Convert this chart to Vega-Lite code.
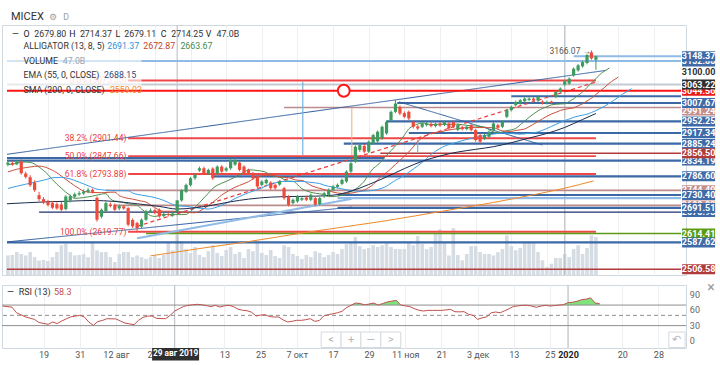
{
"$schema":"https://vega.github.io/schema/vega-lite/v6.json",
"padding":{"top":10,"left":0,"right":0,"bottom":0},
"background":"white",
"bounds":"flush",
"config":{"view":{"stroke":"#d0d8e0"},"font":"Roboto","text":{"font":"Roboto"}},
"datasets":{
"candles":[
{"i":-9,"o":2822,"h":2834,"l":2817,"c":2828,"v":23},
{"i":-8,"o":2827,"h":2833,"l":2818,"c":2822,"v":23.5},
{"i":-7,"o":2823,"h":2836,"l":2820,"c":2830,"v":27},
{"i":-6,"o":2831,"h":2838,"l":2792,"c":2796,"v":24.7},
{"i":-5,"o":2795,"h":2801,"l":2780,"c":2785,"v":23},
{"i":-4,"o":2784,"h":2790,"l":2755,"c":2760,"v":27},
{"i":-3,"o":2768,"h":2775,"l":2740,"c":2745,"v":21},
{"i":-2,"o":2730,"h":2740,"l":2712,"c":2718,"v":17},
{"i":-1,"o":2718,"h":2724,"l":2703,"c":2708,"v":17.6},
{"i":0,"o":2710,"h":2716,"l":2696,"c":2700,"v":16.5},
{"i":1,"o":2706,"h":2712,"l":2688,"c":2692,"v":21},
{"i":2,"o":2703,"h":2708,"l":2686,"c":2690,"v":27},
{"i":3,"o":2702,"h":2710,"l":2680,"c":2686,"v":35},
{"i":4,"o":2688,"h":2730,"l":2684,"c":2726,"v":36.8},
{"i":5,"o":2714,"h":2732,"l":2708,"c":2727,"v":27},
{"i":6,"o":2725,"h":2738,"l":2720,"c":2733,"v":23},
{"i":7,"o":2732,"h":2742,"l":2728,"c":2736,"v":23.5},
{"i":8,"o":2735,"h":2747,"l":2731,"c":2741,"v":24.7},
{"i":9,"o":2740,"h":2752,"l":2736,"c":2746,"v":21},
{"i":10,"o":2746,"h":2750,"l":2735,"c":2740,"v":38.8},
{"i":11,"o":2722,"h":2726,"l":2650,"c":2656,"v":29},
{"i":12,"o":2665,"h":2690,"l":2660,"c":2686,"v":27},
{"i":13,"o":2682,"h":2712,"l":2678,"c":2706,"v":27},
{"i":14,"o":2702,"h":2708,"l":2693,"c":2697,"v":21},
{"i":15,"o":2701,"h":2705,"l":2682,"c":2686,"v":15.3},
{"i":16,"o":2690,"h":2701,"l":2685,"c":2697,"v":24.7},
{"i":17,"o":2696,"h":2700,"l":2686,"c":2690,"v":27},
{"i":18,"o":2691,"h":2694,"l":2636,"c":2641,"v":27},
{"i":19,"o":2655,"h":2660,"l":2631,"c":2636,"v":21},
{"i":20,"o":2646,"h":2650,"l":2619.77,"c":2631,"v":23},
{"i":21,"o":2635,"h":2660,"l":2630,"c":2656,"v":21},
{"i":22,"o":2656,"h":2686,"l":2652,"c":2681,"v":19},
{"i":23,"o":2680,"h":2690,"l":2676,"c":2684,"v":21},
{"i":24,"o":2685,"h":2690,"l":2672,"c":2676,"v":23},
{"i":25,"o":2686,"h":2690,"l":2662,"c":2666,"v":20},
{"i":26,"o":2667,"h":2678,"l":2663,"c":2673,"v":23.5},
{"i":27,"o":2673,"h":2677,"l":2666,"c":2670,"v":38.8},
{"i":28,"o":2670,"h":2680,"l":2665,"c":2675,"v":29},
{"i":29,"o":2679.8,"h":2714.37,"l":2679.11,"c":2714.25,"v":47},
{"i":30,"o":2714,"h":2748,"l":2710,"c":2745,"v":40},
{"i":31,"o":2740,"h":2765,"l":2736,"c":2761,"v":30.5},
{"i":32,"o":2760,"h":2785,"l":2756,"c":2781,"v":26},
{"i":33,"o":2781,"h":2796,"l":2776,"c":2791,"v":33},
{"i":34,"o":2804,"h":2816,"l":2800,"c":2811,"v":23.5},
{"i":35,"o":2811,"h":2816,"l":2792,"c":2796,"v":21},
{"i":36,"o":2796,"h":2810,"l":2791,"c":2806,"v":28},
{"i":37,"o":2810,"h":2814,"l":2776,"c":2781,"v":35},
{"i":38,"o":2795,"h":2820,"l":2790,"c":2816,"v":26},
{"i":39,"o":2816,"h":2820,"l":2797,"c":2801,"v":22.3},
{"i":40,"o":2804,"h":2815,"l":2800,"c":2811,"v":29.4},
{"i":41,"o":2811,"h":2840,"l":2806,"c":2836,"v":33},
{"i":42,"o":2822,"h":2842,"l":2818,"c":2836,"v":24.7},
{"i":43,"o":2828,"h":2832,"l":2802,"c":2806,"v":27},
{"i":44,"o":2816,"h":2820,"l":2792,"c":2796,"v":20},
{"i":45,"o":2806,"h":2810,"l":2793,"c":2797,"v":30.5},
{"i":46,"o":2796,"h":2800,"l":2776,"c":2781,"v":28},
{"i":47,"o":2786,"h":2790,"l":2750,"c":2756,"v":38.8},
{"i":48,"o":2761,"h":2775,"l":2756,"c":2771,"v":26},
{"i":49,"o":2766,"h":2780,"l":2762,"c":2776,"v":23.5},
{"i":50,"o":2768,"h":2772,"l":2746,"c":2751,"v":29.4},
{"i":51,"o":2761,"h":2765,"l":2746,"c":2751,"v":22.3},
{"i":52,"o":2762,"h":2775,"l":2758,"c":2771,"v":20},
{"i":53,"o":2751,"h":2755,"l":2716,"c":2721,"v":35},
{"i":54,"o":2726,"h":2730,"l":2696,"c":2701,"v":33},
{"i":55,"o":2706,"h":2720,"l":2702,"c":2716,"v":24.7},
{"i":56,"o":2711,"h":2730,"l":2707,"c":2726,"v":22.3},
{"i":57,"o":2716,"h":2725,"l":2712,"c":2721,"v":18.8},
{"i":58,"o":2723,"h":2727,"l":2712,"c":2716,"v":23.5},
{"i":59,"o":2716,"h":2735,"l":2712,"c":2731,"v":21},
{"i":60,"o":2721,"h":2725,"l":2696,"c":2701,"v":28},
{"i":61,"o":2703,"h":2725,"l":2698,"c":2721,"v":26},
{"i":62,"o":2726,"h":2740,"l":2722,"c":2736,"v":21},
{"i":63,"o":2731,"h":2750,"l":2727,"c":2746,"v":23.5},
{"i":64,"o":2746,"h":2760,"l":2742,"c":2756,"v":27},
{"i":65,"o":2755,"h":2765,"l":2751,"c":2761,"v":24.7},
{"i":66,"o":2764,"h":2780,"l":2760,"c":2776,"v":30.5},
{"i":67,"o":2771,"h":2805,"l":2767,"c":2801,"v":36.4},
{"i":68,"o":2801,"h":2830,"l":2797,"c":2826,"v":38.8},
{"i":69,"o":2831,"h":2880,"l":2827,"c":2876,"v":44.7},
{"i":70,"o":2866,"h":2886,"l":2860,"c":2881,"v":34},
{"i":71,"o":2878,"h":2884,"l":2856,"c":2861,"v":30.5},
{"i":72,"o":2861,"h":2895,"l":2857,"c":2891,"v":31.7},
{"i":73,"o":2886,"h":2915,"l":2882,"c":2911,"v":35},
{"i":74,"o":2892,"h":2925,"l":2888,"c":2921,"v":33},
{"i":75,"o":2901,"h":2940,"l":2897,"c":2936,"v":35},
{"i":76,"o":2916,"h":2955,"l":2912,"c":2951,"v":38.8},
{"i":77,"o":2956,"h":2985,"l":2952,"c":2981,"v":33},
{"i":78,"o":2981,"h":3016,"l":2977,"c":3006,"v":30.5},
{"i":79,"o":2996,"h":3000,"l":2971,"c":2976,"v":30.5},
{"i":80,"o":2977,"h":2982,"l":2962,"c":2966,"v":30.5},
{"i":81,"o":2981,"h":2985,"l":2956,"c":2961,"v":38.8},
{"i":82,"o":2951,"h":2955,"l":2931,"c":2936,"v":35},
{"i":83,"o":2937,"h":2942,"l":2926,"c":2931,"v":45.8},
{"i":84,"o":2936,"h":2950,"l":2932,"c":2946,"v":36.4},
{"i":85,"o":2941,"h":2951,"l":2937,"c":2946,"v":30.5},
{"i":86,"o":2945,"h":2950,"l":2934,"c":2938,"v":33},
{"i":87,"o":2938,"h":2949,"l":2934,"c":2945,"v":48.2},
{"i":88,"o":2946,"h":2950,"l":2936,"c":2940,"v":53.7},
{"i":89,"o":2942,"h":2954,"l":2938,"c":2950,"v":38.8},
{"i":90,"o":2946,"h":2950,"l":2927,"c":2931,"v":23},
{"i":91,"o":2951,"h":2955,"l":2932,"c":2936,"v":55.2},
{"i":92,"o":2927,"h":2945,"l":2923,"c":2941,"v":23.5},
{"i":93,"o":2935,"h":2939,"l":2925,"c":2929,"v":17.3},
{"i":94,"o":2929,"h":2940,"l":2925,"c":2936,"v":24.7},
{"i":95,"o":2941,"h":2945,"l":2922,"c":2926,"v":34},
{"i":96,"o":2926,"h":2930,"l":2891,"c":2896,"v":34},
{"i":97,"o":2911,"h":2915,"l":2886,"c":2891,"v":27},
{"i":98,"o":2900,"h":2915,"l":2896,"c":2911,"v":24.7},
{"i":99,"o":2906,"h":2925,"l":2902,"c":2921,"v":24.7},
{"i":100,"o":2926,"h":2950,"l":2922,"c":2946,"v":23},
{"i":101,"o":2941,"h":2945,"l":2929,"c":2933,"v":27},
{"i":102,"o":2936,"h":2955,"l":2932,"c":2951,"v":30.5},
{"i":103,"o":2966,"h":2990,"l":2962,"c":2986,"v":46.6},
{"i":104,"o":2986,"h":3000,"l":2982,"c":2996,"v":34},
{"i":105,"o":3001,"h":3015,"l":2997,"c":3011,"v":29},
{"i":106,"o":3006,"h":3020,"l":3002,"c":3016,"v":31.7},
{"i":107,"o":3013,"h":3025,"l":3009,"c":3021,"v":38.8},
{"i":108,"o":3017,"h":3025,"l":3013,"c":3021,"v":38.8},
{"i":109,"o":3021,"h":3025,"l":3011,"c":3015,"v":38.8},
{"i":110,"o":3015,"h":3030,"l":3011,"c":3026,"v":27},
{"i":111,"o":3012,"h":3016,"l":3003,"c":3007,"v":17.3},
{"i":112,"o":3007,"h":3015,"l":3003,"c":3011,"v":9.4},
{"i":113,"o":3012,"h":3015,"l":3004,"c":3008,"v":13.3},
{"i":114,"o":3026,"h":3045,"l":3022,"c":3041,"v":20},
{"i":115,"o":3041,"h":3055,"l":3037,"c":3051,"v":20},
{"i":116,"o":3063,"h":3077,"l":3059,"c":3073,"v":24.7},
{"i":117,"o":3066,"h":3085,"l":3062,"c":3081,"v":21},
{"i":118,"o":3091,"h":3115,"l":3087,"c":3111,"v":30.5},
{"i":119,"o":3106,"h":3125,"l":3102,"c":3121,"v":35},
{"i":120,"o":3118,"h":3135,"l":3114,"c":3131,"v":24.7},
{"i":121,"o":3128,"h":3156,"l":3124,"c":3152,"v":31.7},
{"i":122,"o":3160,"h":3166.07,"l":3138,"c":3142,"v":46.6},
{"i":123,"o":3138,"h":3150,"l":3108,"c":3148.37,"v":44.7}
],
"ind":[
{"s":"lips","i":-9,"v":2822},{"s":"lips","i":-7,"v":2826},{"s":"lips","i":-6,"v":2830},{"s":"lips","i":-4,"v":2828.7},{"s":"lips","i":-2,"v":2814.7},{"s":"lips","i":0,"v":2792},{"s":"lips","i":1,"v":2777},{"s":"lips","i":2,"v":2763},{"s":"lips","i":3,"v":2751},{"s":"lips","i":4,"v":2739},{"s":"lips","i":5,"v":2729},{"s":"lips","i":6,"v":2720.5},{"s":"lips","i":8,"v":2722.7},{"s":"lips","i":10,"v":2727},{"s":"lips","i":12,"v":2733},{"s":"lips","i":13,"v":2734.4},{"s":"lips","i":14,"v":2718.8},{"s":"lips","i":15,"v":2712.2},{"s":"lips","i":16,"v":2711},{"s":"lips","i":18,"v":2703.8},{"s":"lips","i":20,"v":2699.9},{"s":"lips","i":21,"v":2688.1},{"s":"lips","i":22,"v":2677.7},{"s":"lips","i":23,"v":2668.4},{"s":"lips","i":24,"v":2665.9},{"s":"lips","i":26,"v":2671.9},{"s":"lips","i":28,"v":2671.4},{"s":"lips","i":30,"v":2671.4},{"s":"lips","i":31,"v":2672.1},{"s":"lips","i":32,"v":2680.5},{"s":"lips","i":33,"v":2693.4},{"s":"lips","i":34,"v":2706.9},{"s":"lips","i":35,"v":2721.7},{"s":"lips","i":36,"v":2735.6},{"s":"lips","i":37,"v":2750.7},{"s":"lips","i":38,"v":2759.7},{"s":"lips","i":40,"v":2771.4},{"s":"lips","i":42,"v":2784.4},{"s":"lips","i":44,"v":2799},{"s":"lips","i":45,"v":2806.4},{"s":"lips","i":47,"v":2804.3},{"s":"lips","i":49,"v":2798.5},{"s":"lips","i":50,"v":2790},{"s":"lips","i":52,"v":2784.1},{"s":"lips","i":54,"v":2772.2},{"s":"lips","i":55,"v":2772},{"s":"lips","i":56,"v":2761.8},{"s":"lips","i":57,"v":2749.6},{"s":"lips","i":58,"v":2742.9},{"s":"lips","i":60,"v":2735.8},{"s":"lips","i":62,"v":2731.7},{"s":"lips","i":63,"v":2725.5},{"s":"lips","i":65,"v":2726.9},{"s":"lips","i":67,"v":2735.8},{"s":"lips","i":69,"v":2747.9},{"s":"lips","i":70,"v":2758.5},{"s":"lips","i":71,"v":2772},{"s":"lips","i":72,"v":2792.8},{"s":"lips","i":73,"v":2810.4},{"s":"lips","i":74,"v":2820.5},{"s":"lips","i":75,"v":2834.6},{"s":"lips","i":76,"v":2849.9},{"s":"lips","i":77,"v":2864.1},{"s":"lips","i":78,"v":2878.5},{"s":"lips","i":79,"v":2893},{"s":"lips","i":80,"v":2910.6},{"s":"lips","i":81,"v":2929.7},{"s":"lips","i":82,"v":2938.9},{"s":"lips","i":83,"v":2944.4},{"s":"lips","i":84,"v":2947.7},{"s":"lips","i":86,"v":2942.5},{"s":"lips","i":88,"v":2943.7},{"s":"lips","i":90,"v":2943.1},{"s":"lips","i":92,"v":2943.9},{"s":"lips","i":94,"v":2940.3},{"s":"lips","i":96,"v":2938.1},{"s":"lips","i":98,"v":2935.4},{"s":"lips","i":99,"v":2927.5},{"s":"lips","i":100,"v":2920.2},{"s":"lips","i":101,"v":2918.3},{"s":"lips","i":103,"v":2924.3},{"s":"lips","i":105,"v":2931},{"s":"lips","i":106,"v":2942},{"s":"lips","i":107,"v":2952.8},{"s":"lips","i":108,"v":2964.5},{"s":"lips","i":109,"v":2974.8},{"s":"lips","i":110,"v":2984},{"s":"lips","i":111,"v":2991.4},{"s":"lips","i":112,"v":2996.1},{"s":"lips","i":113,"v":3002.1},{"s":"lips","i":115,"v":3004.7},{"s":"lips","i":116,"v":3005.3},{"s":"lips","i":117,"v":3012.5},{"s":"lips","i":118,"v":3020.2},{"s":"lips","i":119,"v":3030.7},{"s":"lips","i":120,"v":3040.8},{"s":"lips","i":121,"v":3054.8},{"s":"lips","i":122,"v":3068},{"s":"lips","i":123,"v":3080.6},{"s":"lips","i":124,"v":3094.9},{"s":"lips","i":125,"v":3104.3},{"s":"lips","i":126,"v":3113},
{"s":"teeth","i":-9,"v":2800},{"s":"teeth","i":-7,"v":2808},{"s":"teeth","i":-5,"v":2813},{"s":"teeth","i":-4,"v":2815},{"s":"teeth","i":-2,"v":2817.6},{"s":"teeth","i":0,"v":2811.2},{"s":"teeth","i":1,"v":2804.8},{"s":"teeth","i":2,"v":2797.3},{"s":"teeth","i":3,"v":2787.4},{"s":"teeth","i":4,"v":2777.5},{"s":"teeth","i":5,"v":2767.8},{"s":"teeth","i":6,"v":2758.3},{"s":"teeth","i":7,"v":2749.8},{"s":"teeth","i":8,"v":2741.8},{"s":"teeth","i":10,"v":2738.2},{"s":"teeth","i":12,"v":2737.4},{"s":"teeth","i":14,"v":2738.8},{"s":"teeth","i":15,"v":2739},{"s":"teeth","i":16,"v":2728.6},{"s":"teeth","i":17,"v":2723.3},{"s":"teeth","i":19,"v":2718.1},{"s":"teeth","i":21,"v":2712},{"s":"teeth","i":22,"v":2709.2},{"s":"teeth","i":23,"v":2700.7},{"s":"teeth","i":24,"v":2692.6},{"s":"teeth","i":25,"v":2684.9},{"s":"teeth","i":26,"v":2681.3},{"s":"teeth","i":28,"v":2681.6},{"s":"teeth","i":30,"v":2679},{"s":"teeth","i":32,"v":2677.3},{"s":"teeth","i":33,"v":2677},{"s":"teeth","i":34,"v":2681.6},{"s":"teeth","i":35,"v":2689.5},{"s":"teeth","i":36,"v":2698.4},{"s":"teeth","i":37,"v":2708.7},{"s":"teeth","i":38,"v":2719},{"s":"teeth","i":39,"v":2730.5},{"s":"teeth","i":40,"v":2738.7},{"s":"teeth","i":41,"v":2747.1},{"s":"teeth","i":43,"v":2759.4},{"s":"teeth","i":45,"v":2770.4},{"s":"teeth","i":47,"v":2785.8},{"s":"teeth","i":48,"v":2788.3},{"s":"teeth","i":50,"v":2790.2},{"s":"teeth","i":52,"v":2785},{"s":"teeth","i":54,"v":2782.3},{"s":"teeth","i":56,"v":2775},{"s":"teeth","i":57,"v":2774.5},{"s":"teeth","i":58,"v":2767.8},{"s":"teeth","i":59,"v":2759.5},{"s":"teeth","i":61,"v":2750.5},{"s":"teeth","i":63,"v":2743},{"s":"teeth","i":65,"v":2736.4},{"s":"teeth","i":67,"v":2734.7},{"s":"teeth","i":69,"v":2738.6},{"s":"teeth","i":71,"v":2745.7},{"s":"teeth","i":72,"v":2752.6},{"s":"teeth","i":73,"v":2761.8},{"s":"teeth","i":74,"v":2776.1},{"s":"teeth","i":75,"v":2789.2},{"s":"teeth","i":76,"v":2798.2},{"s":"teeth","i":77,"v":2809.8},{"s":"teeth","i":78,"v":2822.4},{"s":"teeth","i":79,"v":2834.7},{"s":"teeth","i":80,"v":2847.4},{"s":"teeth","i":81,"v":2860.3},{"s":"teeth","i":82,"v":2875.4},{"s":"teeth","i":83,"v":2891.7},{"s":"teeth","i":84,"v":2902.2},{"s":"teeth","i":85,"v":2910.2},{"s":"teeth","i":86,"v":2916.5},{"s":"teeth","i":88,"v":2920.5},{"s":"teeth","i":90,"v":2926.5},{"s":"teeth","i":92,"v":2930},{"s":"teeth","i":94,"v":2933.6},{"s":"teeth","i":96,"v":2933.6},{"s":"teeth","i":98,"v":2933.8},{"s":"teeth","i":100,"v":2933.1},{"s":"teeth","i":101,"v":2928.5},{"s":"teeth","i":102,"v":2923.8},{"s":"teeth","i":104,"v":2922},{"s":"teeth","i":105,"v":2925},{"s":"teeth","i":107,"v":2929.2},{"s":"teeth","i":108,"v":2936.3},{"s":"teeth","i":109,"v":2943.7},{"s":"teeth","i":110,"v":2952.1},{"s":"teeth","i":111,"v":2960.1},{"s":"teeth","i":112,"v":2967.7},{"s":"teeth","i":113,"v":2974.4},{"s":"teeth","i":114,"v":2979.4},{"s":"teeth","i":115,"v":2985.2},{"s":"teeth","i":117,"v":2990.8},{"s":"teeth","i":118,"v":2993},{"s":"teeth","i":119,"v":2999},{"s":"teeth","i":120,"v":3005.5},{"s":"teeth","i":121,"v":3013.9},{"s":"teeth","i":122,"v":3022.3},{"s":"teeth","i":123,"v":3033.4},{"s":"teeth","i":124,"v":3044.4},{"s":"teeth","i":125,"v":3055.2},{"s":"teeth","i":126,"v":3067.3},{"s":"teeth","i":127,"v":3076.7},{"s":"teeth","i":128,"v":3085.6},
{"s":"jaw","i":-9,"v":2750},{"s":"jaw","i":-7,"v":2757},{"s":"jaw","i":-5,"v":2763},{"s":"jaw","i":-3,"v":2769},{"s":"jaw","i":-1,"v":2775},{"s":"jaw","i":0,"v":2778.6},{"s":"jaw","i":1,"v":2782.6},{"s":"jaw","i":3,"v":2783.7},{"s":"jaw","i":4,"v":2781.9},{"s":"jaw","i":5,"v":2779},{"s":"jaw","i":6,"v":2774.3},{"s":"jaw","i":7,"v":2769.2},{"s":"jaw","i":8,"v":2763.9},{"s":"jaw","i":9,"v":2758.4},{"s":"jaw","i":10,"v":2753.1},{"s":"jaw","i":11,"v":2748},{"s":"jaw","i":12,"v":2746.3},{"s":"jaw","i":14,"v":2743.9},{"s":"jaw","i":17,"v":2743.3},{"s":"jaw","i":18,"v":2743.1},{"s":"jaw","i":19,"v":2736.4},{"s":"jaw","i":20,"v":2732.5},{"s":"jaw","i":22,"v":2727.9},{"s":"jaw","i":24,"v":2722.6},{"s":"jaw","i":26,"v":2714},{"s":"jaw","i":27,"v":2708},{"s":"jaw","i":28,"v":2702.1},{"s":"jaw","i":29,"v":2698.5},{"s":"jaw","i":31,"v":2696.2},{"s":"jaw","i":33,"v":2692.4},{"s":"jaw","i":35,"v":2689.3},{"s":"jaw","i":36,"v":2688.2},{"s":"jaw","i":37,"v":2690.2},{"s":"jaw","i":38,"v":2694.4},{"s":"jaw","i":39,"v":2699.5},{"s":"jaw","i":40,"v":2705.8},{"s":"jaw","i":41,"v":2712.3},{"s":"jaw","i":42,"v":2719.9},{"s":"jaw","i":43,"v":2725.8},{"s":"jaw","i":44,"v":2732},{"s":"jaw","i":46,"v":2741.9},{"s":"jaw","i":48,"v":2751.4},{"s":"jaw","i":50,"v":2763.9},{"s":"jaw","i":51,"v":2767.1},{"s":"jaw","i":53,"v":2771.5},{"s":"jaw","i":55,"v":2771},{"s":"jaw","i":57,"v":2771.4},{"s":"jaw","i":59,"v":2768.4},{"s":"jaw","i":61,"v":2764.9},{"s":"jaw","i":62,"v":2760},{"s":"jaw","i":64,"v":2754.2},{"s":"jaw","i":66,"v":2748.9},{"s":"jaw","i":68,"v":2743.9},{"s":"jaw","i":70,"v":2741.7},{"s":"jaw","i":72,"v":2743.1},{"s":"jaw","i":74,"v":2746.9},{"s":"jaw","i":75,"v":2751.1},{"s":"jaw","i":76,"v":2756.8},{"s":"jaw","i":77,"v":2766},{"s":"jaw","i":78,"v":2774.9},{"s":"jaw","i":79,"v":2781.5},{"s":"jaw","i":80,"v":2789.9},{"s":"jaw","i":81,"v":2799.2},{"s":"jaw","i":82,"v":2808.6},{"s":"jaw","i":83,"v":2818.4},{"s":"jaw","i":84,"v":2828.6},{"s":"jaw","i":85,"v":2840.3},{"s":"jaw","i":86,"v":2853.1},{"s":"jaw","i":87,"v":2862.5},{"s":"jaw","i":88,"v":2870.5},{"s":"jaw","i":89,"v":2877.5},{"s":"jaw","i":90,"v":2882},{"s":"jaw","i":92,"v":2890.3},{"s":"jaw","i":94,"v":2897.9},{"s":"jaw","i":96,"v":2904.5},{"s":"jaw","i":98,"v":2909.8},{"s":"jaw","i":100,"v":2914},{"s":"jaw","i":102,"v":2916.8},{"s":"jaw","i":104,"v":2915.8},{"s":"jaw","i":106,"v":2913.7},{"s":"jaw","i":108,"v":2916.7},{"s":"jaw","i":110,"v":2920.5},{"s":"jaw","i":111,"v":2925.5},{"s":"jaw","i":112,"v":2930.9},{"s":"jaw","i":113,"v":2937.1},{"s":"jaw","i":114,"v":2943.2},{"s":"jaw","i":115,"v":2949.2},{"s":"jaw","i":116,"v":2954.7},{"s":"jaw","i":117,"v":2959.3},{"s":"jaw","i":118,"v":2964.5},{"s":"jaw","i":120,"v":2971.1},{"s":"jaw","i":121,"v":2973.9},{"s":"jaw","i":122,"v":2979.1},{"s":"jaw","i":123,"v":2984.6},{"s":"jaw","i":124,"v":2991.4},{"s":"jaw","i":125,"v":2998.3},{"s":"jaw","i":126,"v":3007},{"s":"jaw","i":127,"v":3015.7},{"s":"jaw","i":128,"v":3024.6},{"s":"jaw","i":129,"v":3034.4},{"s":"jaw","i":130,"v":3042.7},{"s":"jaw","i":131,"v":3050.8},
{"s":"ema","i":-9.2,"v":2704},{"s":"ema","i":-5,"v":2707},{"s":"ema","i":0,"v":2710},{"s":"ema","i":5,"v":2712},{"s":"ema","i":10,"v":2714},{"s":"ema","i":15,"v":2711},{"s":"ema","i":20,"v":2704},{"s":"ema","i":25,"v":2696},{"s":"ema","i":29,"v":2688.15},{"s":"ema","i":33,"v":2692},{"s":"ema","i":37,"v":2700},{"s":"ema","i":41,"v":2710},{"s":"ema","i":45,"v":2718},{"s":"ema","i":50,"v":2724},{"s":"ema","i":55,"v":2726},{"s":"ema","i":60,"v":2727},{"s":"ema","i":64,"v":2730},{"s":"ema","i":68,"v":2742},{"s":"ema","i":72,"v":2762},{"s":"ema","i":76,"v":2785},{"s":"ema","i":80,"v":2810},{"s":"ema","i":84,"v":2832},{"s":"ema","i":88,"v":2848},{"s":"ema","i":92,"v":2860},{"s":"ema","i":96,"v":2868},{"s":"ema","i":100,"v":2876},{"s":"ema","i":104,"v":2888},{"s":"ema","i":108,"v":2902},{"s":"ema","i":112,"v":2916},{"s":"ema","i":116,"v":2934},{"s":"ema","i":120,"v":2958},{"s":"ema","i":123,"v":2976},
{"s":"sma","i":23,"v":2547},{"s":"sma","i":29,"v":2559.03},{"s":"sma","i":35,"v":2571},{"s":"sma","i":45,"v":2590},{"s":"sma","i":58,"v":2618},{"s":"sma","i":75,"v":2651},{"s":"sma","i":90,"v":2685},{"s":"sma","i":100,"v":2708},{"s":"sma","i":110,"v":2734},{"s":"sma","i":116,"v":2751},{"s":"sma","i":122.5,"v":2773}
],
"lines":[
{"x1":-9.2,"y1":3134,"x2":142.1,"y2":3134,"k":"lblue"},
{"x1":118,"y1":3148.37,"x2":142.1,"y2":3148.37,"k":"lblue"},
{"x1":18,"y1":3075.55,"x2":123,"y2":3075.55,"k":"fib"},
{"x1":-9.2,"y1":3063.22,"x2":142.1,"y2":3063.22,"k":"gray"},
{"x1":104,"y1":3028,"x2":142.1,"y2":3028,"k":"blue"},
{"x1":78.4,"y1":3007.67,"x2":142.1,"y2":3007.67,"k":"blue"},
{"x1":53,"y1":2994,"x2":142.1,"y2":2994,"k":"rose1"},
{"x1":76,"y1":2952.25,"x2":142.1,"y2":2952.25,"k":"blue"},
{"x1":81,"y1":2917.34,"x2":142.1,"y2":2917.34,"k":"blue"},
{"x1":18,"y1":2901.44,"x2":123,"y2":2901.44,"k":"fib"},
{"x1":66.4,"y1":2885.24,"x2":142.1,"y2":2885.24,"k":"blue"},
{"x1":74.6,"y1":2856.5,"x2":142.1,"y2":2856.5,"k":"dred1"},
{"x1":18,"y1":2847.66,"x2":123,"y2":2847.66,"k":"fib"},
{"x1":-9.2,"y1":2842,"x2":75.5,"y2":2842,"k":"blue"},
{"x1":-9.2,"y1":2834.19,"x2":142.1,"y2":2834.19,"k":"blue"},
{"x1":18,"y1":2793.88,"x2":123,"y2":2793.88,"k":"fib"},
{"x1":37,"y1":2786.6,"x2":142.1,"y2":2786.6,"k":"blue"},
{"x1":13,"y1":2744.5,"x2":142.1,"y2":2744.5,"k":"rose"},
{"x1":65,"y1":2730.4,"x2":142.1,"y2":2730.4,"k":"blue"},
{"x1":65,"y1":2721,"x2":142.1,"y2":2721,"k":"lblue"},
{"x1":15,"y1":2699,"x2":142.1,"y2":2699,"k":"rose"},
{"x1":65,"y1":2691.51,"x2":142.1,"y2":2691.51,"k":"bluet"},
{"x1":-2,"y1":2679,"x2":142.1,"y2":2679,"k":"navy"},
{"x1":18,"y1":2619.77,"x2":123,"y2":2619.77,"k":"fib"},
{"x1":22,"y1":2614.41,"x2":142.1,"y2":2614.41,"k":"green"},
{"x1":-9.2,"y1":2587.62,"x2":142.1,"y2":2587.62,"k":"blue"},
{"x1":-9.2,"y1":2506.58,"x2":142.1,"y2":2506.58,"k":"dred"},
{"x1":-9.2,"y1":2853,"x2":125.3,"y2":3106,"k":"trend"},
{"x1":-9.2,"y1":2589,"x2":68.2,"y2":2694,"k":"trend"},
{"x1":20,"y1":2600,"x2":68.2,"y2":2719,"k":"lblue"},
{"x1":78.8,"y1":3011,"x2":111,"y2":2881,"k":"trend"},
{"x1":20,"y1":2636,"x2":123.5,"y2":3073,"k":"rdash"},
{"x1":57.2,"y1":3071,"x2":57.2,"y2":2851,"k":"vlb"},
{"x1":68.2,"y1":2991,"x2":68.2,"y2":2851,"k":"vor"},
{"x1":83,"y1":2896,"x2":83,"y2":2860,"k":"vlb"},
{"x1":-9.2,"y1":3044.56,"x2":142.1,"y2":3044.56,"k":"redx"}
],
"boxesUnder":[
{"p":3132.88,"t":"3132.88","k":"blue"},
{"p":3044.56,"t":"3044.56","k":"red"},
{"p":2985,"t":"2991.24","k":"rose"},
{"p":2834.19,"t":"2834.19","k":"blue"},
{"p":2744.5,"t":"2744.49","k":"rose"},
{"p":2699,"t":"2699.02","k":"rose"},
{"p":2678.9,"t":"2678.93","k":"blue"}
],
"boxesOver":[
{"p":3148.37,"t":"3148.37","k":"blue"},
{"p":3100,"t":"3100.00","k":"white"},
{"p":3063.22,"t":"3063.22","k":"dark"},
{"p":3007.67,"t":"3007.67","k":"blue"},
{"p":2952.25,"t":"2952.25","k":"blue"},
{"p":2917.34,"t":"2917.34","k":"blue"},
{"p":2885.24,"t":"2885.24","k":"blue"},
{"p":2856.5,"t":"2856.50","k":"dred"},
{"p":2786.6,"t":"2786.60","k":"blue"},
{"p":2730.4,"t":"2730.40","k":"blue"},
{"p":2691.51,"t":"2691.51","k":"blue"},
{"p":2614.41,"t":"2614.41","k":"green"},
{"p":2587.62,"t":"2587.62","k":"blue"},
{"p":2506.58,"t":"2506.58","k":"dred"}
],
"notes":[
{"i":-8.32,"p":3266.8,"t":"MICEX","k":"title"},{"i":0.3,"p":3266.8,"t":"⚙","k":"ico"},{"i":3.4,"p":3266.8,"t":"D","k":"ico"},
{"i":-8.1,"p":3216.5,"t":"—","k":"b"},{"i":-5.51,"p":3216.5,"t":"O","k":"b"},{"i":-3.07,"p":3216.5,"t":"2679.80","k":"t"},{"i":4.8,"p":3216.5,"t":"H","k":"b"},{"i":7.17,"p":3216.5,"t":"2714.37","k":"t"},{"i":15.13,"p":3216.5,"t":"L","k":"b"},{"i":17.12,"p":3216.5,"t":"2679.11","k":"t"},{"i":25.3,"p":3216.5,"t":"C","k":"b"},{"i":27.67,"p":3216.5,"t":"2714.25","k":"t"},{"i":35.41,"p":3216.5,"t":"V","k":"b"},{"i":37.85,"p":3216.5,"t":"47.0B","k":"t"},
{"i":-5.51,"p":3178.5,"t":"ALLIGATOR (13, 8, 5)","k":"t"},{"i":13.29,"p":3178.5,"t":"2691.37","k":"alb"},{"i":21.39,"p":3178.5,"t":"2672.87","k":"alr"},{"i":29.73,"p":3178.5,"t":"2663.67","k":"alg"},
{"i":-5.51,"p":3133.3,"t":"VOLUME","k":"t"},{"i":3.3,"p":3133.3,"t":"47.0B","k":"vol"},
{"i":-5.51,"p":3092.9,"t":"EMA (55, 0, CLOSE)","k":"t"},{"i":12.6,"p":3092.9,"t":"2688.15","k":"ema"},
{"i":-5.51,"p":3045.9,"t":"SMA (200, 0, CLOSE)","k":"t"},{"i":13.9,"p":3045.9,"t":"2559.03","k":"sma"}
],
"fibn":[
{"i":17.6,"p":3075.55,"t":"0.0% (3075.55)","k":"fibdim"},
{"i":17.6,"p":2901.44,"t":"38.2% (2901.44)","k":"fib"},
{"i":17.6,"p":2847.66,"t":"50.0% (2847.66)","k":"fib"},
{"i":17.6,"p":2793.88,"t":"61.8% (2793.88)","k":"fib"},
{"i":17.6,"p":2619.77,"t":"100.0% (2619.77)","k":"fib"},
{"i":121.9,"p":3163,"t":"3166.07 →","k":"hi"}
],
"rsi":[
{"i":-9,"r":68,"t":70},{"i":-7,"r":66,"t":70},{"i":-6,"r":55,"t":70},{"i":-4,"r":47,"t":70},{"i":-3,"r":44.5,"t":70},{"i":-2,"r":42,"t":70},{"i":-1,"r":36,"t":70},{"i":1,"r":32.5,"t":70},{"i":2,"r":37,"t":70},{"i":3,"r":34,"t":70},{"i":4,"r":39,"t":70},{"i":5,"r":43,"t":70},{"i":6,"r":47,"t":70},{"i":8,"r":50,"t":70},{"i":9,"r":47,"t":70},{"i":10,"r":37,"t":70},{"i":11,"r":30.5,"t":70},{"i":12,"r":38,"t":70},{"i":13,"r":40,"t":70},{"i":14,"r":43.5,"t":70},{"i":16,"r":43,"t":70},{"i":17,"r":39,"t":70},{"i":18,"r":35,"t":70},{"i":20,"r":31.8,"t":70},{"i":21,"r":40.3,"t":70},{"i":22,"r":46,"t":70},{"i":23,"r":48.5,"t":70},{"i":24,"r":48.7,"t":70},{"i":25,"r":44,"t":70},{"i":27,"r":43.5,"t":70},{"i":28,"r":50,"t":70},{"i":29,"r":58.3,"t":70},{"i":30,"r":63,"t":70},{"i":31,"r":67.5,"t":70},{"i":32,"r":69.5,"t":70},{"i":33,"r":70.5,"t":70.5},{"i":34,"r":71.5,"t":71.5},{"i":35,"r":70.5,"t":70.5},{"i":36,"r":69,"t":70},{"i":37,"r":67,"t":70},{"i":38,"r":69.5,"t":70},{"i":39,"r":66.2,"t":70},{"i":40,"r":68.5,"t":70},{"i":41,"r":69.5,"t":70},{"i":42,"r":67,"t":70},{"i":43,"r":62,"t":70},{"i":44,"r":60,"t":70},{"i":45,"r":59,"t":70},{"i":46,"r":56,"t":70},{"i":47,"r":48.7,"t":70},{"i":48,"r":50.5,"t":70},{"i":49,"r":51.3,"t":70},{"i":50,"r":47.5,"t":70},{"i":51,"r":46.8,"t":70},{"i":52,"r":46.8,"t":70},{"i":53,"r":41,"t":70},{"i":54,"r":37,"t":70},{"i":55,"r":38.5,"t":70},{"i":56,"r":40.3,"t":70},{"i":57,"r":40.3,"t":70},{"i":58,"r":41.5,"t":70},{"i":59,"r":43.5,"t":70},{"i":60,"r":38.3,"t":70},{"i":61,"r":40,"t":70},{"i":62,"r":49,"t":70},{"i":63,"r":51.3,"t":70},{"i":64,"r":53,"t":70},{"i":65,"r":55,"t":70},{"i":66,"r":57.8,"t":70},{"i":67,"r":65,"t":70},{"i":68,"r":69.5,"t":70},{"i":69,"r":74,"t":74},{"i":70,"r":73,"t":73},{"i":71,"r":70.5,"t":70.5},{"i":72,"r":72,"t":72},{"i":73,"r":74,"t":74},{"i":74,"r":70,"t":70},{"i":75,"r":73,"t":73},{"i":76,"r":76,"t":76},{"i":77,"r":77.5,"t":77.5},{"i":78,"r":79.3,"t":79.3},{"i":79,"r":70,"t":70},{"i":80,"r":68.5,"t":70},{"i":81,"r":67,"t":70},{"i":82,"r":63,"t":70},{"i":83,"r":60,"t":70},{"i":84,"r":58.4,"t":70},{"i":85,"r":59.7,"t":70},{"i":86,"r":59.7,"t":70},{"i":87,"r":59.7,"t":70},{"i":88,"r":59.7,"t":70},{"i":89,"r":60.5,"t":70},{"i":90,"r":61.7,"t":70},{"i":91,"r":57,"t":70},{"i":92,"r":56.8,"t":70},{"i":93,"r":57.2,"t":70},{"i":94,"r":52,"t":70},{"i":95,"r":50,"t":70},{"i":96,"r":42.2,"t":70},{"i":97,"r":45,"t":70},{"i":98,"r":47,"t":70},{"i":99,"r":55,"t":70},{"i":100,"r":56.5,"t":70},{"i":101,"r":55,"t":70},{"i":102,"r":59,"t":70},{"i":103,"r":63,"t":70},{"i":104,"r":67.5,"t":70},{"i":105,"r":68.5,"t":70},{"i":106,"r":69.5,"t":70},{"i":107,"r":69.5,"t":70},{"i":108,"r":68,"t":70},{"i":109,"r":65.6,"t":70},{"i":110,"r":68,"t":70},{"i":111,"r":69.5,"t":70},{"i":112,"r":68.2,"t":70},{"i":113,"r":69,"t":70},{"i":114,"r":70,"t":70},{"i":115,"r":70.8,"t":70.8},{"i":116,"r":74.7,"t":74.7},{"i":117,"r":75.5,"t":75.5},{"i":118,"r":77.3,"t":77.3},{"i":119,"r":80.5,"t":80.5},{"i":120,"r":81.5,"t":81.5},{"i":121,"r":84,"t":84},{"i":122,"r":74,"t":74},{"i":123,"r":72.8,"t":72.8}
],
"btn":[
{"a":61.4,"b":65.8,"m":63.6,"t":"<"},{"a":65.8,"b":70.2,"m":68,"t":"+"},{"a":70.2,"b":74.6,"m":72.4,"t":"—"},{"a":74.6,"b":79,"m":76.8,"t":">"},{"a":138.3,"b":141.9,"m":140.1,"t":"↶"}
]
},
"spacing":10,
"vconcat":[
{
"width":684,"height":250,
"layer":[
{
"data":{"name":"candles"},
"mark":{"type":"bar","width":3.6,"color":"#d6dce3"},
"encoding":{
"x":{"field":"i","type":"quantitative","scale":{"domain":[-9.2,142.1],"nice":false,"zero":false},"axis":{"values":[0,8,16,24,32,40,48,56,64,72,80,88,96,104,112,116,128,136],"grid":true,"gridColor":"#edf0f3","labels":false,"ticks":false,"domain":false,"title":null,"minExtent":0,"maxExtent":0}},
"y":{"field":"v","type":"quantitative","scale":{"domain":[0,294],"nice":false},"axis":null}
}
},
{
"resolve":{"scale":{"color":"independent","strokeWidth":"independent"}},
"layer":[
{
"data":{"values":[{"i":29},{"i":116}]},
"mark":{"type":"rule","color":"#b4bac1","strokeWidth":1},
"encoding":{"x":{"field":"i","type":"quantitative","scale":{"domain":[-9.2,142.1],"nice":false,"zero":false}}}
},
{
"data":{"name":"lines"},
"mark":{"type":"rule"},
"encoding":{
"x":{"field":"x1","type":"quantitative","scale":{"domain":[-9.2,142.1],"nice":false,"zero":false}},
"x2":{"field":"x2"},
"y":{"field":"y1","type":"quantitative","scale":{"domain":[2489.4,3242.7],"nice":false,"zero":false},"axis":null},
"y2":{"field":"y2"},
"color":{"field":"k","type":"nominal","scale":{"domain":["blue","bluet","lblue","gray","fib","redx","rose","rose1","dred","dred1","green","navy","rdash","vlb","vor","trend"],"range":["#3b69a6","#3b69a6","#8fbbe6","#c3cad2","#f04646","#ff1414","#bb8a8a","#bb8a8a","#b33a3a","#b33a3a","#5d9b16","#1f2f6e","#ee3b3b","#6fb1e0","#f2b27e","#2f5e9f"]},"legend":null},
"strokeWidth":{"field":"k","type":"ordinal","scale":{"domain":["blue","bluet","lblue","gray","fib","redx","rose","rose1","dred","dred1","green","navy","rdash","vlb","vor","trend"],"range":[2.2,1,1.5,1,1,3,2,1,2,1.2,2.5,2,1.5,1.5,1.5,2.6]},"legend":null},
"strokeDash":{"condition":{"test":"datum.k == 'rdash'","value":[4,3]},"value":[1,0]}
}
},
{
"data":{"name":"ind"},
"mark":{"type":"line","interpolate":"monotone"},
"encoding":{
"x":{"field":"i","type":"quantitative","scale":{"domain":[-9.2,142.1],"nice":false,"zero":false}},
"y":{"field":"v","type":"quantitative","scale":{"domain":[2489.4,3242.7],"nice":false,"zero":false},"axis":null},
"color":{"field":"s","type":"nominal","scale":{"domain":["jaw","teeth","lips","ema","sma"],"range":["#3a9ee4","#c9503a","#4d8f4d","#1b2a4e","#ef8a2b"]},"legend":null},
"strokeWidth":{"field":"s","type":"ordinal","scale":{"domain":["jaw","teeth","lips","ema","sma"],"range":[1,1,1,2.2,1.4]},"legend":null}
}
},
{
"data":{"name":"candles"},
"mark":{"type":"rule","strokeWidth":1},
"encoding":{
"x":{"field":"i","type":"quantitative","scale":{"domain":[-9.2,142.1],"nice":false,"zero":false}},
"y":{"field":"l","type":"quantitative","scale":{"domain":[2489.4,3242.7],"nice":false,"zero":false},"axis":null},
"y2":{"field":"h"},
"color":{"condition":{"test":"datum.c >= datum.o","value":"#3d9b5f"},"value":"#ee4a3c"}
}
},
{
"data":{"name":"candles"},
"mark":{"type":"bar","width":3.2},
"encoding":{
"x":{"field":"i","type":"quantitative","scale":{"domain":[-9.2,142.1],"nice":false,"zero":false}},
"y":{"field":"o","type":"quantitative","scale":{"domain":[2489.4,3242.7],"nice":false,"zero":false},"axis":null},
"y2":{"field":"c"},
"color":{"condition":{"test":"datum.c >= datum.o","value":"#3d9b5f"},"value":"#ee4a3c"}
}
},
{
"data":{"values":[{"i":66.4,"p":3044.56}]},
"mark":{"type":"point","shape":"circle","filled":true,"color":"#ffffff","stroke":"#ff1414","strokeWidth":2,"size":140,"opacity":1},
"encoding":{
"x":{"field":"i","type":"quantitative","scale":{"domain":[-9.2,142.1],"nice":false,"zero":false}},
"y":{"field":"p","type":"quantitative","scale":{"domain":[2489.4,3242.7],"nice":false,"zero":false},"axis":null}
}
},
{
"data":{"name":"fibn"},
"mark":{"type":"text","align":"right","baseline":"middle","fontSize":8.5},
"encoding":{
"x":{"field":"i","type":"quantitative","scale":{"domain":[-9.2,142.1],"nice":false,"zero":false}},
"y":{"field":"p","type":"quantitative","scale":{"domain":[2489.4,3242.7],"nice":false,"zero":false},"axis":null},
"text":{"field":"t"},
"color":{"field":"k","type":"nominal","scale":{"domain":["fib","fibdim","hi"],"range":["#ee4040","#f6b0b0","#555555"]},"legend":null}
}
},
{
"data":{"values":[{"a":-9.2,"b":21,"p1":3158,"p2":3056}]},
"mark":{"type":"rect","color":"#ffffff","opacity":0.6},
"encoding":{
"x":{"field":"a","type":"quantitative","scale":{"domain":[-9.2,142.1],"nice":false,"zero":false}},
"x2":{"field":"b"},
"y":{"field":"p1","type":"quantitative","scale":{"domain":[2489.4,3242.7],"nice":false,"zero":false},"axis":null},
"y2":{"field":"p2"}
}
},
{
"data":{"name":"notes"},
"mark":{"type":"text","align":"left","baseline":"middle"},
"encoding":{
"x":{"field":"i","type":"quantitative","scale":{"domain":[-9.2,142.1],"nice":false,"zero":false}},
"y":{"field":"p","type":"quantitative","scale":{"domain":[2489.4,3242.7],"nice":false,"zero":false},"axis":null},
"text":{"field":"t"},
"color":{"field":"k","type":"nominal","scale":{"domain":["b","t","alb","alr","alg","vol","ema","sma","ico","title"],"range":["#222222","#333333","#2f8fd6","#c0442e","#3f8a4a","#9aa6b2","#2b4a7a","#ef8a2b","#9aa0a6","#333333"]},"legend":null},
"size":{"condition":{"test":"datum.k == 'title'","value":11},"value":8.8},
"fontWeight":{"condition":{"test":"datum.k == 'b'","value":"bold"},"value":"normal"}
}
},
{
"data":{"name":"boxesUnder"},
"mark":{"type":"tick","orient":"horizontal","thickness":10,"size":33,"opacity":1},
"encoding":{
"x":{"datum":146.05,"type":"quantitative","scale":{"domain":[-9.2,142.1],"nice":false,"zero":false}},
"y":{"field":"p","type":"quantitative","scale":{"domain":[2489.4,3242.7],"nice":false,"zero":false},"axis":null},
"color":{"field":"k","type":"nominal","scale":{"domain":["blue","dark","red","dred","green","rose","white"],"range":["#3e6ba7","#2f2f2f","#e81b1b","#b03b3b","#5c9b14","#c48e8e","#ffffff"]},"legend":null}
}
},
{
"data":{"name":"boxesUnder"},
"mark":{"type":"text","align":"center","baseline":"middle","fontSize":9,"fontWeight":"bold","color":"#ffffff"},
"encoding":{
"x":{"datum":146.05,"type":"quantitative","scale":{"domain":[-9.2,142.1],"nice":false,"zero":false}},
"y":{"field":"p","type":"quantitative","scale":{"domain":[2489.4,3242.7],"nice":false,"zero":false},"axis":null},
"text":{"field":"t"}
}
},
{
"data":{"name":"boxesOver"},
"mark":{"type":"tick","orient":"horizontal","thickness":10,"size":33,"opacity":1},
"encoding":{
"x":{"datum":146.05,"type":"quantitative","scale":{"domain":[-9.2,142.1],"nice":false,"zero":false}},
"y":{"field":"p","type":"quantitative","scale":{"domain":[2489.4,3242.7],"nice":false,"zero":false},"axis":null},
"color":{"field":"k","type":"nominal","scale":{"domain":["blue","dark","red","dred","green","rose","white"],"range":["#3e6ba7","#2f2f2f","#e81b1b","#b03b3b","#5c9b14","#c48e8e","#ffffff"]},"legend":null}
}
},
{
"data":{"name":"boxesOver"},
"mark":{"type":"text","align":"center","baseline":"middle","fontSize":9,"fontWeight":"bold"},
"encoding":{
"x":{"datum":146.05,"type":"quantitative","scale":{"domain":[-9.2,142.1],"nice":false,"zero":false}},
"y":{"field":"p","type":"quantitative","scale":{"domain":[2489.4,3242.7],"nice":false,"zero":false},"axis":null},
"text":{"field":"t"},
"color":{"condition":{"test":"datum.k == 'white'","value":"#333333"},"value":"#ffffff"}
}
}
]
}
],
"resolve":{"scale":{"y":"independent"}}
},
{
"width":684,"height":63,
"resolve":{"scale":{"color":"independent"}},
"layer":[
{
"data":{"values":[{"i":29},{"i":116}]},
"mark":{"type":"rule","color":"#b4bac1","strokeWidth":1},
"encoding":{"x":{"field":"i","type":"quantitative","scale":{"domain":[-9.2,142.1],"nice":false,"zero":false},
"axis":{"values":[0,8,16,24,32,40,48,56,64,72,80,88,96,104,112,116,128,136],"labelExpr":"['19','31','12 авг','22','3','13','25','7 окт','17','29','11 ноя','21','3 дек','13','25','2020','20','28'][indexof([0,8,16,24,32,40,48,56,64,72,80,88,96,104,112,116,128,136], datum.value)]","grid":true,"gridColor":"#edf0f3","ticks":false,"domain":false,"title":null,"labelFontSize":9,"labelColor":{"condition":{"test":"datum.value == 116","value":"#222"},"value":"#555"},"labelFontWeight":{"condition":{"test":"datum.value == 116","value":"bold"},"value":"normal"},"labelPadding":2,"labelFont":"Roboto","labelOverlap":false,"labelFlush":false}}}
},
{
"data":{"name":"rsi"},
"mark":{"type":"area","color":"#7fe27a","opacity":1},
"encoding":{
"x":{"field":"i","type":"quantitative","scale":{"domain":[-9.2,142.1],"nice":false,"zero":false}},
"y":{"field":"t","type":"quantitative","scale":{"domain":[-13.6,109.1],"nice":false,"zero":false},"axis":null},
"y2":{"datum":70}
}
},
{
"data":{"values":[{"r":70,"k":"s"},{"r":30,"k":"s"},{"r":50,"k":"d"}]},
"mark":{"type":"rule","color":"#8e8e8e","strokeWidth":1},
"encoding":{
"y":{"field":"r","type":"quantitative","scale":{"domain":[-13.6,109.1],"nice":false,"zero":false},"axis":null},
"strokeDash":{"condition":{"test":"datum.k == 'd'","value":[4,3]},"value":[1,0]}
}
},
{
"data":{"name":"rsi"},
"mark":{"type":"line","color":"#c0504d","strokeWidth":1},
"encoding":{
"x":{"field":"i","type":"quantitative","scale":{"domain":[-9.2,142.1],"nice":false,"zero":false}},
"y":{"field":"r","type":"quantitative","scale":{"domain":[-13.6,109.1],"nice":false,"zero":false},"axis":null}
}
},
{
"data":{"values":[{"r":90},{"r":60},{"r":30},{"r":0}]},
"mark":{"type":"text","align":"left","baseline":"middle","fontSize":9,"color":"#666666"},
"encoding":{
"x":{"datum":142.95,"type":"quantitative","scale":{"domain":[-9.2,142.1],"nice":false,"zero":false}},
"y":{"field":"r","type":"quantitative","scale":{"domain":[-13.6,109.1],"nice":false,"zero":false},"axis":null},
"text":{"field":"r"}
}
},
{
"data":{"name":"btn"},
"mark":{"type":"rect","fill":"#ffffff","stroke":"#d5d9de","strokeWidth":1},
"encoding":{
"x":{"field":"a","type":"quantitative","scale":{"domain":[-9.2,142.1],"nice":false,"zero":false}},
"x2":{"field":"b"},
"y":{"datum":17.5,"type":"quantitative","scale":{"domain":[-13.6,109.1],"nice":false,"zero":false},"axis":null},
"y2":{"datum":-12.7}
}
},
{
"data":{"name":"btn"},
"mark":{"type":"text","align":"center","baseline":"middle","fontSize":11,"color":"#b0b6bd"},
"encoding":{
"x":{"field":"m","type":"quantitative","scale":{"domain":[-9.2,142.1],"nice":false,"zero":false}},
"y":{"datum":2.4,"type":"quantitative","scale":{"domain":[-13.6,109.1],"nice":false,"zero":false},"axis":null},
"text":{"field":"t"}
}
},
{
"data":{"values":[{"i":-8.1,"r":95.5,"t":"—","k":"b"},{"i":-5.51,"r":95.5,"t":"RSI (13)","k":"t"},{"i":2.3,"r":95.5,"t":"58.3","k":"rsi"},{"i":146.8,"r":104,"t":"×","k":"x"}]},
"mark":{"type":"text","align":"left","baseline":"middle"},
"encoding":{
"x":{"field":"i","type":"quantitative","scale":{"domain":[-9.2,142.1],"nice":false,"zero":false}},
"y":{"field":"r","type":"quantitative","scale":{"domain":[-13.6,109.1],"nice":false,"zero":false},"axis":null},
"text":{"field":"t"},
"color":{"field":"k","type":"nominal","scale":{"domain":["b","t","rsi","x"],"range":["#222222","#333333","#c0504d","#9a9a9a"]},"legend":null},
"size":{"condition":{"test":"datum.k == 'x'","value":14},"value":9},
"fontWeight":{"condition":{"test":"datum.k == 'b'","value":"bold"},"value":"normal"}
}
},
{
"data":{"values":[{"a":24,"b":34.4,"r1":-13.4,"r2":-38}]},
"mark":{"type":"rect","color":"#2f2f2f"},
"encoding":{
"x":{"field":"a","type":"quantitative","scale":{"domain":[-9.2,142.1],"nice":false,"zero":false}},
"x2":{"field":"b"},
"y":{"field":"r1","type":"quantitative","scale":{"domain":[-13.6,109.1],"nice":false,"zero":false},"axis":null},
"y2":{"field":"r2"}
}
},
{
"data":{"values":[{"i":29.2,"r":-25.8,"t":"29 авг 2019"}]},
"mark":{"type":"text","align":"center","baseline":"middle","fontSize":8.3,"fontWeight":"bold","color":"#ffffff"},
"encoding":{
"x":{"field":"i","type":"quantitative","scale":{"domain":[-9.2,142.1],"nice":false,"zero":false}},
"y":{"field":"r","type":"quantitative","scale":{"domain":[-13.6,109.1],"nice":false,"zero":false},"axis":null},
"text":{"field":"t"}
}
}
]
}
]
}
